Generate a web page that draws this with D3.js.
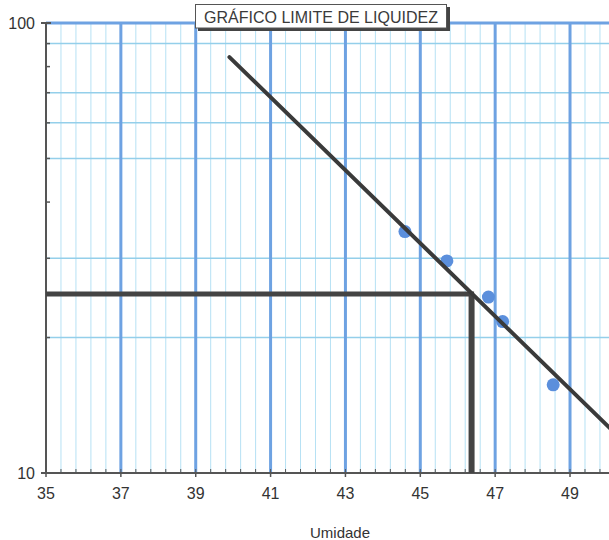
<!DOCTYPE html>
<html><head><meta charset="utf-8">
<script src="https://cdn.jsdelivr.net/npm/d3@7"></script>
<style>body{margin:0;background:#fff}svg{display:block}</style>
</head><body><div id="c"></div>
<script>
// Data
const moisture = [44.59, 45.71, 46.82, 47.2, 48.55];
const blows = [34.4, 29.6, 24.6, 21.7, 15.7];
const trendMoisture = [39.9, 50.1];
const trendBlows = [84, 12.5];
const llMoisture = [46.37];
const llBlows = [25];
const xTickLabels = [35, 37, 39, 41, 43, 45, 47, 49];
const yTickLabels = [10, 100];
const yGridValues = [20, 30, 50, 60, 70, 90];
const yMinorTicks = [20, 30, 40, 50, 60, 70, 80, 90];
const title = "GRÁFICO LIMITE DE LIQUIDEZ";
const xTitle = "Umidade";

const W = 609, H = 540;
const svg = d3.select("#c").append("svg").attr("width", W).attr("height", H);
const x = d3.scaleLinear().domain([35, 51]).range([46, 46 + 16 * 37.43]);
const y = d3.scaleLog().domain([10, 100]).range([473, 23]);
const font = "Liberation Sans, Arial, sans-serif";

// minor vertical grid
const xMinor = d3.range(35.4, 51, 0.4).filter(v => Math.abs(v / 2 - Math.round(v / 2) - 0.5) > 0.01);
svg.append("g").selectAll("line").data(xMinor).join("line")
  .attr("x1", d => x(d)).attr("x2", d => x(d)).attr("y1", y(100)).attr("y2", y(10))
  .attr("stroke", "#b6e1f4").attr("stroke-width", 1);
// horizontal grid
svg.append("g").selectAll("line").data(yGridValues).join("line")
  .attr("x1", x(35)).attr("x2", W).attr("y1", d => y(d)).attr("y2", d => y(d))
  .attr("stroke", "#94cfea").attr("stroke-width", 1.5);
// major vertical grid
svg.append("g").selectAll("line").data(xTickLabels.slice(1).concat([51])).join("line")
  .attr("x1", d => x(d)).attr("x2", d => x(d)).attr("y1", y(100)).attr("y2", y(10))
  .attr("stroke", "#6ea2e2").attr("stroke-width", 3);
// top line at 100
svg.append("line").attr("x1", x(35)).attr("x2", W).attr("y1", y(100)).attr("y2", y(100))
  .attr("stroke", "#6ea2e2").attr("stroke-width", 3);

// axes
const axisColor = "#555";
svg.append("line").attr("x1", x(35)).attr("x2", x(35)).attr("y1", y(100) - 1).attr("y2", y(10) + 1)
  .attr("stroke", axisColor).attr("stroke-width", 2);
svg.append("line").attr("x1", x(35)).attr("x2", W).attr("y1", y(10)).attr("y2", y(10))
  .attr("stroke", axisColor).attr("stroke-width", 2);
// y ticks
svg.append("g").selectAll("line").data(yTickLabels).join("line")
  .attr("x1", x(35) - 5).attr("x2", x(35) + 5).attr("y1", d => y(d)).attr("y2", d => y(d))
  .attr("stroke", axisColor).attr("stroke-width", 2);
svg.append("g").selectAll("line").data(yMinorTicks).join("line")
  .attr("x1", x(35)).attr("x2", x(35) + 4).attr("y1", d => y(d)).attr("y2", d => y(d))
  .attr("stroke", axisColor).attr("stroke-width", 1.5);
// x ticks
svg.append("g").selectAll("line").data(xMinor).join("line")
  .attr("x1", d => x(d)).attr("x2", d => x(d)).attr("y1", y(10)).attr("y2", y(10) - 4)
  .attr("stroke", axisColor).attr("stroke-width", 1);
svg.append("g").selectAll("line").data(xTickLabels).join("line")
  .attr("x1", d => x(d)).attr("x2", d => x(d)).attr("y1", y(10)).attr("y2", y(10) + 4)
  .attr("stroke", axisColor).attr("stroke-width", 1.5);

// labels
svg.append("g").selectAll("text").data(yTickLabels).join("text")
  .attr("x", x(35) - 11).attr("y", d => y(d)).attr("dy", "0.35em")
  .attr("text-anchor", "end").attr("font-family", font).attr("font-size", 16).attr("fill", "#333")
  .text(d => d);
svg.append("g").selectAll("text").data(xTickLabels).join("text")
  .attr("x", d => x(d)).attr("y", y(10) + 26)
  .attr("text-anchor", "middle").attr("font-family", font).attr("font-size", 16).attr("fill", "#333")
  .text(d => d);
svg.append("text").attr("x", 340).attr("y", 538).attr("text-anchor", "middle")
  .attr("font-family", font).attr("font-size", 15).attr("fill", "#333").text(xTitle);

// LL reference lines
const refColor = "#444";
svg.append("line").attr("x1", x(35)).attr("x2", x(llMoisture[0]) + 2.5)
  .attr("y1", y(llBlows[0])).attr("y2", y(llBlows[0]))
  .attr("stroke", refColor).attr("stroke-width", 5);
svg.append("line").attr("x1", x(llMoisture[0])).attr("x2", x(llMoisture[0]))
  .attr("y1", y(llBlows[0])).attr("y2", y(10))
  .attr("stroke", refColor).attr("stroke-width", 6);

// points
svg.append("g").selectAll("circle").data(moisture).join("circle")
  .attr("cx", d => x(d)).attr("cy", (d, i) => y(blows[i])).attr("r", 6.5)
  .attr("fill", "#5b8fdc");

// trend line
svg.append("path")
  .datum(trendMoisture.map((m, i) => [m, trendBlows[i]]))
  .attr("d", d3.line().x(d => x(d[0])).y(d => y(d[1])))
  .attr("stroke", "#3a3a3a").attr("stroke-width", 4).attr("fill", "none").attr("stroke-linecap", "round");

// title box
const tb = svg.append("g");
tb.append("rect").attr("x", 198).attr("y", 7).attr("width", 252).attr("height", 24).attr("fill", "#444");
tb.append("rect").attr("x", 195.5).attr("y", 4.5).attr("width", 251).attr("height", 23.5)
  .attr("fill", "#fff").attr("stroke", "#555").attr("stroke-width", 1);
tb.append("text").attr("x", 321).attr("y", 22.5).attr("text-anchor", "middle")
  .attr("font-family", font).attr("font-size", 16).attr("fill", "#3a3a3a").text(title);
</script></body></html>
